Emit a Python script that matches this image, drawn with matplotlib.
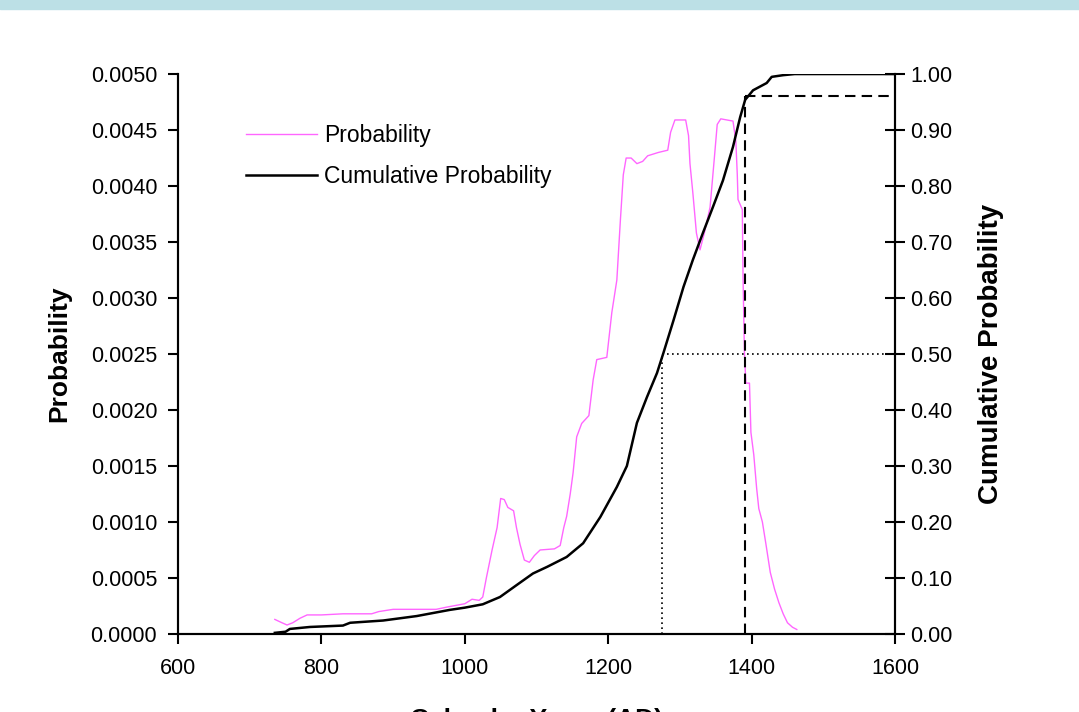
import matplotlib
matplotlib.use("Agg")
import matplotlib.pyplot as plt
from matplotlib.patches import Rectangle

plt.rcParams['font.family'] = ['Liberation Sans', 'DejaVu Sans']

# probability density
prob_years = [735, 745, 752, 760, 770, 780, 800, 830, 870, 880, 900, 960, 975, 1000, 1010, 1020,
              1025, 1030, 1038, 1045, 1050, 1055, 1060, 1068, 1072, 1077, 1083, 1090, 1097,
              1105, 1125, 1133, 1138, 1142, 1147, 1151, 1156, 1163, 1173, 1179, 1184, 1198,
              1205, 1212, 1217, 1221, 1225, 1232, 1240, 1248, 1255, 1270, 1283, 1287, 1293,
              1308, 1312, 1314, 1318, 1323, 1328, 1334, 1342, 1348, 1352, 1357, 1374, 1378,
              1380, 1381, 1387, 1388, 1390, 1392, 1397, 1399, 1403, 1407, 1410, 1415, 1420,
              1426, 1432, 1438, 1444, 1450, 1457, 1463]
prob_vals = [0.00013, 0.00010, 0.00008, 0.00010, 0.00014, 0.00017, 0.00017, 0.00018, 0.00018,
             0.00020, 0.00022, 0.00022, 0.00024, 0.00027, 0.00031, 0.00030,
             0.00033, 0.00050, 0.00075, 0.00095, 0.00121, 0.00120, 0.00113, 0.00110, 0.00095,
             0.00080, 0.00066, 0.00064, 0.00070,
             0.00075, 0.00076, 0.00079, 0.00095, 0.00105, 0.00125, 0.00144, 0.00176, 0.00188,
             0.00195, 0.00227, 0.00245, 0.00247,
             0.00287, 0.00316, 0.00370, 0.00410, 0.00425, 0.00425, 0.00420, 0.00422, 0.00427,
             0.00430, 0.00432, 0.00448, 0.00459,
             0.00459, 0.00445, 0.00420, 0.00394, 0.00358, 0.00343, 0.00358, 0.00381, 0.00425,
             0.00455, 0.00460, 0.00458, 0.00440,
             0.00410, 0.00388, 0.00379, 0.00319, 0.00250, 0.00224, 0.00224, 0.00180, 0.00160,
             0.00130, 0.00112, 0.00100, 0.00080,
             0.00055, 0.00040, 0.00028, 0.00018, 0.00010, 0.00006, 0.00004]

# cumulative probability
cum_years = [735, 750, 756, 784, 830, 840, 886, 933, 979, 1000, 1025, 1049, 1073, 1095, 1115,
             1142, 1165, 1189, 1212, 1226, 1240, 1254, 1268, 1277, 1291, 1305, 1318, 1332,
             1346, 1360, 1374, 1384, 1391, 1402, 1421, 1428, 1444, 1460, 1600]
cum_vals = [0.002, 0.004, 0.009, 0.0125, 0.015, 0.020, 0.024, 0.032, 0.043, 0.047, 0.053, 0.066,
            0.088, 0.108, 0.120, 0.1375, 0.162, 0.209, 0.2625, 0.300, 0.377, 0.423, 0.466, 0.502,
            0.560, 0.620, 0.668, 0.716, 0.7625, 0.810, 0.870, 0.923, 0.954, 0.971, 0.984, 0.995,
            0.998, 1.000, 1.000]

median_year = 1275
upper_year = 1391
upper_cum = 0.96

fig = plt.figure(figsize=(10.79, 7.12), dpi=100)
ax = fig.add_axes([0.165, 0.1096, 0.6645, 0.7864])
ax2 = ax.twinx()

# light blue band at the top of the page
fig.patches.append(Rectangle((0, 0.987), 1, 0.013, transform=fig.transFigure,
                             color='#bce0e6', zorder=0))

p_line, = ax.plot(prob_years, prob_vals, color='#ff66ff', lw=1.0, label='Probability')
c_line, = ax2.plot(cum_years, cum_vals, color='black', lw=1.8,
                   label='Cumulative Probability')

# median and upper reference lines
ax2.plot([median_year, median_year], [0, 0.5], color='black', ls=(0, (1, 2)), lw=1.2)
ax2.plot([median_year, 1600], [0.5, 0.5], color='black', ls=(0, (1, 2)), lw=1.2)
ax2.plot([upper_year, upper_year], [0, upper_cum], color='black', ls=(0, (5, 3)), lw=1.5)
ax2.plot([upper_year, 1600], [upper_cum, upper_cum], color='black', ls=(0, (5, 3)), lw=1.5)

ax.set_xlim(600, 1600)
ax.set_ylim(0, 0.005)
ax2.set_ylim(0, 1.0)
ax.set_xticks([600, 800, 1000, 1200, 1400, 1600])
ax.set_yticks([i * 0.0005 for i in range(11)])
ax.set_yticklabels([f"{i * 0.0005:.4f}" for i in range(11)])
ax2.set_yticks([i * 0.1 for i in range(11)])
ax2.set_yticklabels([f"{i * 0.1:.2f}" for i in range(11)])

for a in (ax, ax2):
    a.spines['top'].set_visible(False)
    for s in a.spines.values():
        s.set_linewidth(1.5)
ax.tick_params(axis='y', direction='out', length=7, width=1.5, labelsize=15.5, pad=8)
ax.tick_params(axis='x', direction='out', length=7, width=1.5, labelsize=15.5, pad=10)
ax2.tick_params(axis='y', direction='inout', length=14, width=1.5, labelsize=15.5, pad=4)

ax.set_ylabel('Probability', fontsize=19, fontweight='bold', labelpad=14)
ax2.set_ylabel('Cumulative Probability', fontsize=20, fontweight='bold', labelpad=18)
ax.set_xlabel('Calendar Years (AD)', fontsize=19, fontweight='bold', labelpad=21)

ax.legend(handles=[p_line, c_line], loc='upper left', bbox_to_anchor=(0.0948, 0.91),
          frameon=False, fontsize=16.5, handlelength=3.1, handletextpad=0.3,
          labelspacing=0.75, borderpad=0, borderaxespad=0)

fig.savefig('out.png', dpi=100)
